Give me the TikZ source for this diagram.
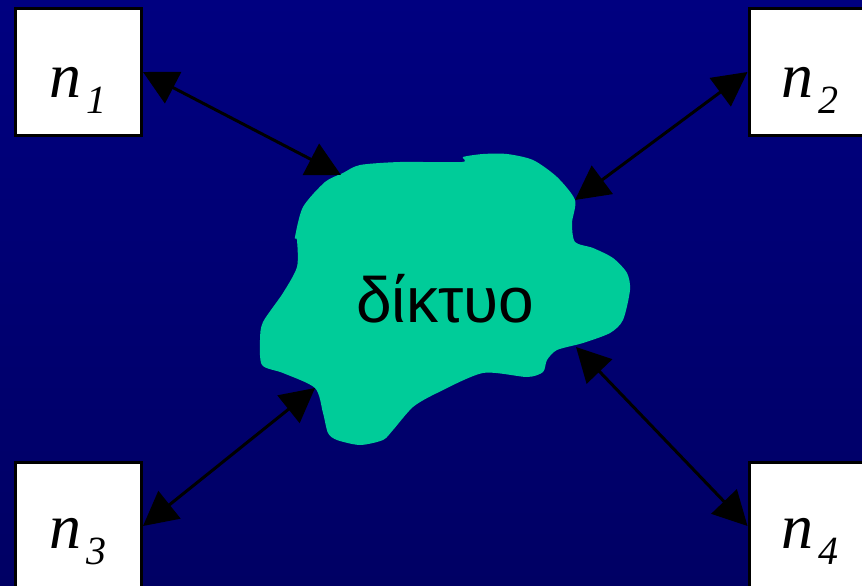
\documentclass[tikz,border=0pt]{standalone}
\usepackage{fontspec}
\setmainfont{Liberation Serif}
\newfontfamily\greekfont{Liberation Sans}
\usetikzlibrary{arrows.meta}
\definecolor{bgtop}{RGB}{0,0,128}
\definecolor{bgbottom}{RGB}{0,0,100}
\definecolor{netgreen}{RGB}{0,204,153}
\newcommand{\hostlabel}[1]{{\fontsize{64}{64}\selectfont\itshape n}\kern5pt\raisebox{-16pt}{\fontsize{40}{40}\selectfont\itshape #1}}
\tikzset{
  host/.style={draw=black, line width=3pt, fill=white, minimum width=126pt, minimum height=127pt, inner sep=0pt},
  hosttext/.style={anchor=base, inner sep=0pt},
  link/.style={line width=3pt, {Triangle[length=34pt,width=35pt]}-{Triangle[length=34pt,width=35pt]}},
}
\begin{document}
\begin{tikzpicture}[x=1pt,y=-1pt]
\useasboundingbox (0,0) rectangle (862,586);
\clip (0,0) rectangle (862,586);
% background
\shade[top color=bgtop, bottom color=bgbottom] (0,0) rectangle (862,586);
% network cloud
\fill[netgreen] plot[smooth cycle, tension=0.45] coordinates {
  (343,173) (360,165) (400,162) (462,162) (463,157) (483,154) (507,154)
  (533,160) (557,177) (575,200) (572,223) (575,242) (593,248) (613,258)
  (627,273) (630,290) (623,320) (610,333) (583,343) (557,350) (547,360)
  (543,372) (527,377) (483,373) (437,393) (413,407) (393,430) (383,440)
  (360,445) (337,440) (328,433) (323,413) (315,388) (283,373) (262,365)
  (260,340) (263,322) (283,293) (297,267) (297,240) (295,237) (303,207)
  (325,182)};
\node[hosttext] (net) at (445,322) {\greekfont\fontsize{64}{64}\selectfont δίκτυο};
% cloud attachment points
\coordinate (c1) at (341,175);
\coordinate (c2) at (575,200);
\coordinate (c3) at (315,388);
\coordinate (c4) at (576,347);
% hosts
\node[host] (n1) at (78.5,72) {};
\node[host] (n2) at (812,72) {};
\node[host] (n3) at (78.5,526) {};
\node[host] (n4) at (812,526) {};
\node[hosttext] (t1) at (78,97) {\hostlabel{1}};
\node[hosttext] (t2) at (810,97) {\hostlabel{2}};
\node[hosttext] (t3) at (78,548) {\hostlabel{3}};
\node[hosttext] (t4) at (810,548) {\hostlabel{4}};
% links
\draw[link] (n1.east) -- (c1);
\draw[link] (n2.west) -- (c2);
\draw[link] (n3.east) -- (c3);
\draw[link] (n4.west) -- (c4);
\end{tikzpicture}
\end{document}
